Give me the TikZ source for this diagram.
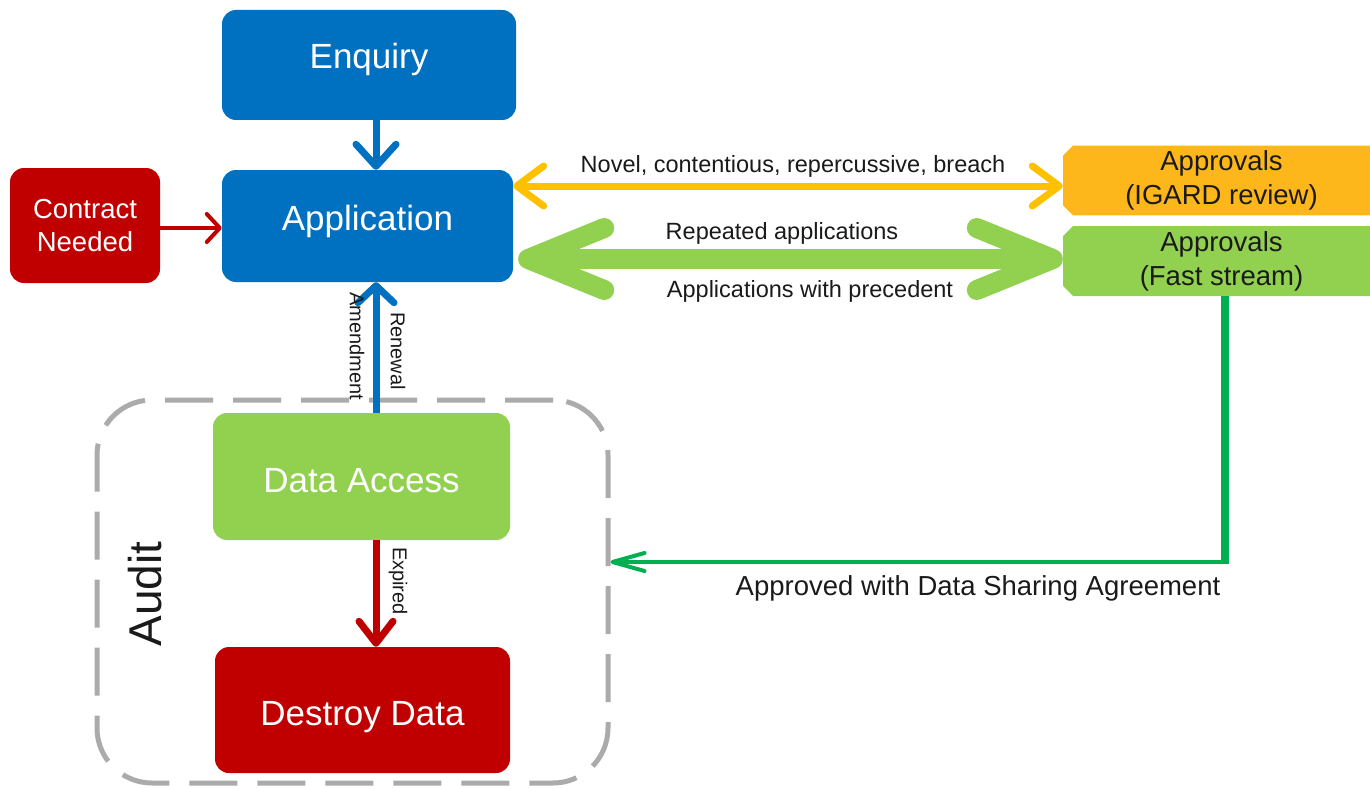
\documentclass[tikz,border=0pt]{standalone}
\usepackage{fontspec}
\setmainfont{Liberation Sans}
\usetikzlibrary{arrows.meta,shapes.misc}
\definecolor{nblue}{HTML}{0070C0}
\definecolor{nred}{HTML}{C00000}
\definecolor{ngreen}{HTML}{92D050}
\definecolor{nyellow}{HTML}{FFC000}
\definecolor{norange}{HTML}{FDB71B}
\definecolor{dgreen}{HTML}{00B050}
\definecolor{dgray}{HTML}{ABABAB}
\definecolor{ink}{HTML}{1A1A1A}
\begin{document}
\begin{tikzpicture}[x=1pt,y=-1pt,
  box/.style={rounded corners=14pt, inner sep=0pt, text=white,
    font=\fontsize{35}{42}\selectfont},
  small/.style={rounded corners=14pt, inner sep=0pt, text=white, align=center,
    font=\fontsize{27.5}{33}\selectfont},
  appr/.style={chamfered rectangle, chamfered rectangle corners={north west,south west},
    chamfered rectangle xsep=5pt, chamfered rectangle ysep=5pt, inner sep=0pt,
    minimum width=317pt, align=center, text=ink,
    font=\fontsize{27.5}{34}\selectfont},
  lbl/.style={text=ink, inner sep=0pt, font=\fontsize{23.5}{28}\selectfont},
  vlbl/.style={text=ink, inner sep=0pt, rotate=-90, font=\fontsize{20}{24}\selectfont},
  conn/.style={line cap=butt},
]
\useasboundingbox (0,0) rectangle (1370,789);

% boxes
\node[box, fill=nblue, minimum width=294pt, minimum height=110pt, text height=25pt, text depth=17pt] (enq) at (369,65) {Enquiry};
\node[box, fill=nblue, minimum width=291pt, minimum height=112pt, text height=25pt, text depth=16pt] (app) at (367.5,226) {Application};
\node[small, fill=nred, minimum width=150pt, minimum height=115pt] (con) at (85,225.5) {Contract\\Needed};
\node[box, fill=ngreen, minimum width=297pt, minimum height=127pt, text height=31pt, text depth=0pt] (da) at (361.5,476.5) {Data Access};
\node[box, fill=nred, minimum width=295pt, minimum height=126pt, text height=30pt, text depth=0pt] (dd) at (362.5,710) {Destroy Data};
\node[appr, fill=norange, minimum height=69pt] (igard) at (1221.5,180.5) {Approvals\\(IGARD review)};
\node[appr, fill=ngreen, minimum height=70pt] (fast) at (1221.5,261) {Approvals\\(Fast stream)};

% audit container
\node[draw=dgray, line width=5pt, dash pattern=on 48pt off 20pt, rounded corners=55pt,
  minimum width=511pt, minimum height=383pt, inner sep=0pt] (audit) at (352.5,591.5) {};
\node[text=ink, rotate=90, inner sep=0pt, font=\fontsize{46}{52}\selectfont] (auditlbl) at (145,594) {Audit};

% helper coordinates
\coordinate (ax) at (376,0);
\coordinate (ya) at (0,186);
\coordinate (yg) at (0,259);
\coordinate (corner) at (1225,562);

% Enquiry -> Application
\draw[conn, nblue, line width=7pt, -{Straight Barb[length=22pt,width=40pt,round]}]
  (enq.south -| ax) -- (app.north -| ax);
% Contract -> Application
\draw[conn, nred, line width=4pt, -{Straight Barb[length=13pt,width=28pt,round]}]
  (con.east |- 0,228) -- (app.west |- 0,228);
% Yellow double arrow
\draw[conn, nyellow, line width=7pt,
  {Straight Barb[length=27pt,width=40pt,round]}-{Straight Barb[length=27pt,width=40pt,round]}]
  (app.east |- ya) -- (igard.west |- ya);
\node[lbl] (nov) at (793,166) {Novel, contentious, repercussive, breach};
% Green double arrow
\draw[conn, ngreen, line width=20pt,
  {Straight Barb[length=76pt,width=62pt,round]}-{Straight Barb[length=76pt,width=62pt,round]}]
  ([xshift=5pt]app.east |- yg) -- (fast.west |- yg);
\node[lbl] (rep) at (782,233) {Repeated applications};
\node[lbl] (prec) at (810,291) {Applications with precedent};
% Renewal / Amendment
\draw[conn, nblue, line width=7pt, -{Straight Barb[length=17pt,width=36pt,round]}]
  (da.north -| ax) -- (app.south -| ax);
\node[vlbl] (amd) at (357,346) {Amendment};
\node[vlbl] (ren) at (398,351) {Renewal};
% Expired
\draw[conn, nred, line width=7pt, -{Straight Barb[length=22pt,width=34pt,round]}]
  (da.south -| ax) -- (dd.north -| ax);
\node[vlbl] (exp) at (398,581) {Expired};
% Approved with DSA
\draw[conn, dgreen, line width=8pt] (fast.south -| corner) -- ([yshift=2pt]corner);
\draw[conn, dgreen, line width=4pt, shorten <=-4pt, -{Straight Barb[length=32pt,width=18pt,round]}]
  (corner) -- (audit.east |- corner);
\node[text=ink, inner sep=0pt, font=\fontsize{27.5}{32}\selectfont] (dsa) at (978,588) {Approved with Data Sharing Agreement};
\end{tikzpicture}
\end{document}
